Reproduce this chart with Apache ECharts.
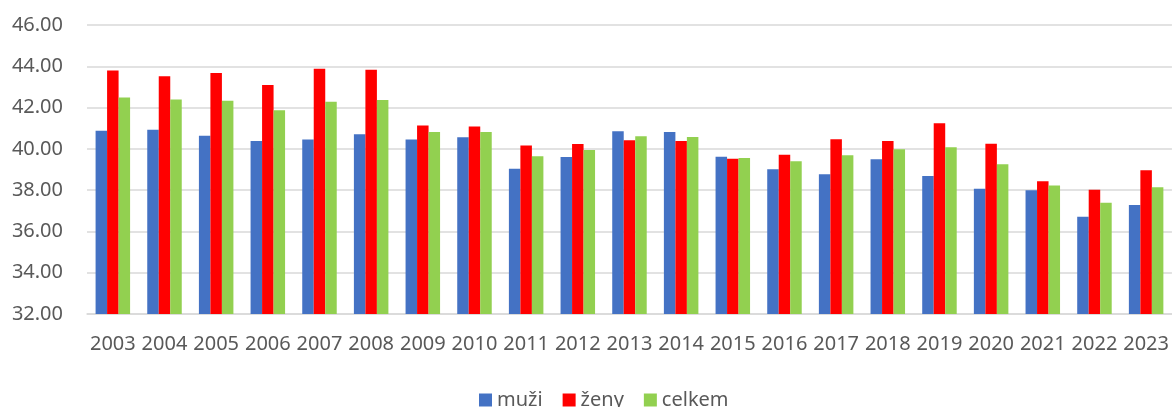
<!DOCTYPE html>
<html>
<head>
<meta charset="utf-8">
<script src="https://cdn.jsdelivr.net/npm/echarts@6/dist/echarts.min.js"></script>
<style>
  html, body { margin: 0; padding: 0; background: #fff; }
  #chart { width: 1172px; height: 407px; }
</style>
</head>
<body>
<div id="chart"></div>
<script>
// categories (years)
var years = ['2003', '2004', '2005', '2006', '2007', '2008', '2009', '2010', '2011', '2012', '2013',
    '2014', '2015', '2016', '2017', '2018', '2019', '2020', '2021', '2022', '2023'];

// series values
var muzi = [40.88, 40.93, 40.64, 40.38, 40.45, 40.71, 40.45, 40.56, 39.04, 39.61, 40.85,
    40.82, 39.62, 39.01, 38.77, 39.50, 38.68, 38.07, 38.00, 36.71, 37.28];
var zeny = [43.80, 43.52, 43.67, 43.09, 43.88, 43.83, 41.13, 41.08, 40.16, 40.24, 40.42,
    40.38, 39.52, 39.72, 40.47, 40.38, 41.24, 40.25, 38.43, 38.02, 38.96];
var celkem = [42.49, 42.39, 42.33, 41.87, 42.28, 42.37, 40.82, 40.82, 39.64, 39.95, 40.61,
    40.58, 39.56, 39.40, 39.69, 39.98, 40.08, 39.25, 38.23, 37.39, 38.14];

var seriesNames = ['muži', 'ženy', 'celkem'];

var textColor = '#595959';
var fontFamily = '"Noto Sans", sans-serif';

var myChart = echarts.init(document.getElementById('chart'));

var option = {
    animation: false,
    textStyle: { fontFamily: fontFamily },
    color: ['#4472c4', '#ff0000', '#92d050'],
    grid: {
        left: 87,
        right: 0,
        top: 25,
        bottom: 93
    },
    legend: {
        data: seriesNames,
        left: 474,
        top: 385,
        itemWidth: 13,
        itemHeight: 13,
        itemGap: 20,
        icon: 'rect',
        textStyle: { color: textColor, fontSize: 20, fontFamily: fontFamily }
    },
    xAxis: {
        type: 'category',
        data: years,
        axisTick: { show: false },
        axisLine: { show: true, lineStyle: { color: '#d9d9d9', width: 1.5 } },
        axisLabel: {
            interval: 0,
            margin: 20,
            color: textColor,
            fontSize: 20,
            fontFamily: fontFamily
        }
    },
    yAxis: {
        type: 'value',
        min: 32,
        max: 46,
        interval: 2,
        axisLine: { show: false },
        axisTick: { show: false },
        splitLine: { lineStyle: { color: '#d9d9d9', width: 1.5 } },
        axisLabel: {
            margin: 24,
            color: textColor,
            fontSize: 20,
            fontFamily: fontFamily,
            formatter: function (v) { return v.toFixed(2); }
        }
    },
    series: [
        { name: seriesNames[0], type: 'bar', data: muzi, barWidth: 11.5, barGap: '0%' },
        { name: seriesNames[1], type: 'bar', data: zeny, barWidth: 11.5, barGap: '0%' },
        { name: seriesNames[2], type: 'bar', data: celkem, barWidth: 11.5, barGap: '0%' }
    ]
};

myChart.setOption(option);
</script>
</body>
</html>
